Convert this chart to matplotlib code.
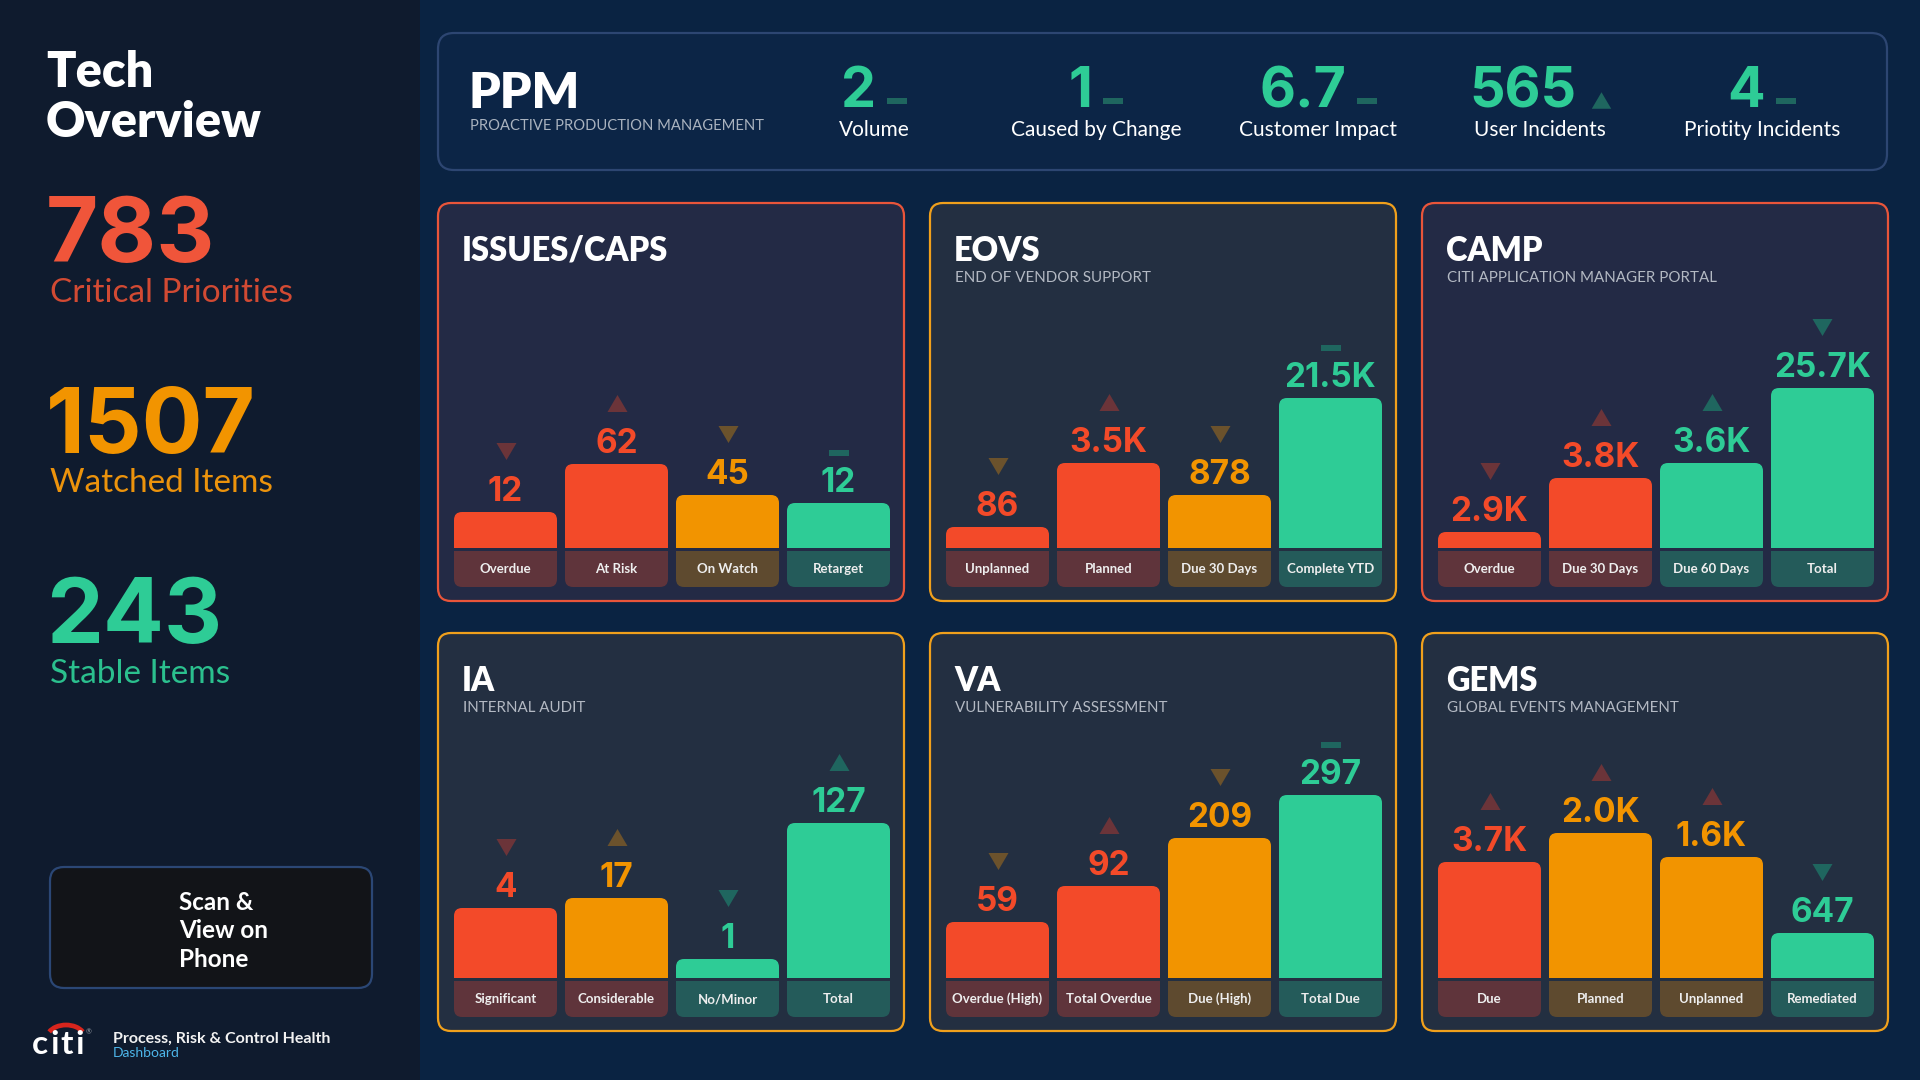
import matplotlib
matplotlib.use("Agg")
import matplotlib.pyplot as plt
from matplotlib.patches import FancyBboxPatch, Rectangle, Arc

plt.rcParams['font.family'] = ['Lato', 'DejaVu Sans']
NUM_FONT = ['Inter', 'Lato', 'DejaVu Sans']

# ---- data ----
side_values = [783, 1507, 243]
side_labels = ["Critical Priorities", "Watched Items", "Stable Items"]

kpi_values = ["2", "1", "6.7", "565", "4"]
kpi_labels = ["Volume", "Caused by Change", "Customer Impact", "User Incidents", "Priotity Incidents"]
kpi_trend = ["flat", "flat", "flat", "up", "flat"]

panel_titles = ["ISSUES/CAPS", "EOVS", "CAMP", "IA", "VA", "GEMS"]
panel_subtitles = ["", "END OF VENDOR SUPPORT", "CITI APPLICATION MANAGER PORTAL",
                   "INTERNAL AUDIT", "VULNERABILITY ASSESSMENT", "GLOBAL EVENTS MANAGEMENT"]
panel_tone = ["r", "o", "r", "o", "o", "o"]

bar_labels = [["Overdue", "At Risk", "On Watch", "Retarget"],
              ["Unplanned", "Planned", "Due 30 Days", "Complete YTD"],
              ["Overdue", "Due 30 Days", "Due 60 Days", "Total"],
              ["Significant", "Considerable", "No/Minor", "Total"],
              ["Overdue (High)", "Total Overdue", "Due (High)", "Total Due"],
              ["Due", "Planned", "Unplanned", "Remediated"]]
bar_values = [[12, 62, 45, 12],
              [86, 3500, 878, 21500],
              [2900, 3800, 3600, 25700],
              [4, 17, 1, 127],
              [59, 92, 209, 297],
              [3700, 2000, 1600, 647]]
# displayed bar height (dashboard index, not proportional to the value)
bar_level = [[36, 84, 53, 45],
             [21, 85, 53, 150],
             [16, 70, 85, 160],
             [70, 80, 19, 155],
             [56, 92, 140, 183],
             [116, 145, 121, 45]]
bar_tone = [["r", "r", "o", "g"], ["r", "r", "o", "g"], ["r", "r", "g", "g"],
            ["r", "o", "g", "g"], ["r", "r", "o", "g"], ["r", "o", "o", "g"]]
strip_tone = [["r", "r", "o", "g"], ["r", "r", "o", "g"], ["r", "r", "g", "g"],
              ["r", "r", "g", "g"], ["r", "r", "o", "g"], ["r", "o", "o", "g"]]
trend = [["down", "up", "down", "flat"], ["down", "up", "down", "flat"],
         ["down", "up", "up", "down"], ["down", "up", "down", "up"],
         ["down", "up", "down", "flat"], ["up", "up", "up", "down"]]
trend_tone = [["r", "r", "o", "g"], ["o", "r", "o", "g"], ["r", "r", "g", "g"],
              ["r", "o", "g", "g"], ["o", "r", "o", "g"], ["r", "r", "r", "g"]]

# ---- style ----
BAR = {"r": "#f34a29", "o": "#f29400", "g": "#2ecc96"}
STRIP = {"r": "#5f343b", "o": "#5e4a2f", "g": "#245b5a"}
ARROW = {"r": "#6b3439", "o": "#6b522c", "g": "#1f665f"}
EDGE = {"r": "#e9553a", "o": "#f0a01c"}
FILL = {"r": "#232a45", "o": "#232f41"}
MAIN_BG = "#0a2342"
SIDE_BG = "#0f1b2e"

TRI_UP = [(-1, -0.85), (1, -0.85), (0, 0.85)]
TRI_DOWN = [(-1, 0.85), (1, 0.85), (0, -0.85)]
DASH = [(-1, -0.33), (1, -0.33), (1, 0.33), (-1, 0.33)]
MARK = {"up": TRI_UP, "down": TRI_DOWN, "flat": DASH}

W, H = 1920, 1080
PITCH = 111  # px per bar slot


def fmt(v):
    return f"{v / 1000:.1f}K" if v >= 1000 else str(v)


def box(ax, x, y, w, h, r, fc, ec="none", lw=0):
    ax.add_patch(FancyBboxPatch((x, y), w, h, boxstyle=f"round,pad=0,rounding_size={r}",
                                fc=fc, ec=ec, lw=lw))


def round_rect(ax, rect, r=8, top=True):
    x, w = rect.get_x(), rect.get_width()
    y0 = min(rect.get_y(), rect.get_y() + rect.get_height())
    hh = abs(rect.get_height())
    c = rect.get_facecolor()
    rect.set_visible(False)
    ax.add_patch(FancyBboxPatch((x, y0), w, hh, boxstyle=f"round,pad=0,rounding_size={r / PITCH}",
                                mutation_aspect=PITCH, fc=c, ec="none", clip_on=False))
    sq = min(r, hh / 2)
    ax.add_patch(Rectangle((x, y0 if top else y0 + hh - sq), w, sq, fc=c, ec="none", clip_on=False))


fig = plt.figure(figsize=(19.2, 10.8), dpi=100)
fig.patch.set_facecolor(MAIN_BG)
bg = fig.add_axes([0, 0, 1, 1])
bg.set_xlim(0, W)
bg.set_ylim(H, 0)
bg.axis("off")
renderer = fig.canvas.get_renderer()

# sidebar
bg.add_patch(Rectangle((0, 0), 420, H, fc=SIDE_BG, ec="none"))
bg.text(46, 87, "Tech", fontsize=35, weight="heavy", color="white", va="baseline")
bg.text(46, 137, "Overview", fontsize=35, weight="heavy", color="white", va="baseline")
side_num_col = ["#f0553a", "#f29400", "#2ecc96"]
side_lab_col = ["#d24a33", "#ec930c", "#2bc08e"]
for i, (v, lab) in enumerate(zip(side_values, side_labels)):
    yb = 262 + i * 190.5
    bg.text(46, yb, str(v), fontsize=65, weight="bold", color=side_num_col[i], va="baseline",
            family=NUM_FONT)
    bg.text(50, yb + 40, lab, fontsize=24, color=side_lab_col[i], va="baseline")

# scan box
box(bg, 50, 867, 322, 121, 14, "#121418", "#2b4775", 1.6)
for j, line in enumerate(["Scan &", "View on", "Phone"]):
    bg.text(179, 910 + j * 28.5, line, fontsize=17.5, weight="bold", color="white", va="baseline")

# footer logo
cx = 32
for ch in "citi":
    t = bg.text(cx, 1054, ch, fontsize=24, weight="bold", color="white", va="baseline")
    cx += t.get_window_extent(renderer).width + 2
bg.add_patch(Arc((66, 1038), 38, 26, theta1=200, theta2=340, color="#d8251d", lw=3.4))
bg.text(86, 1032, "®", fontsize=5, color="#9aa0a8", va="center")
bg.text(113, 1043, "Process, Risk & Control Health", fontsize=11.5, weight="bold",
        color="#f2f2f2", va="baseline")
bg.text(113, 1057, "Dashboard", fontsize=10, color="#4db6ea", va="baseline")

# PPM strip
box(bg, 438, 33, 1449, 137, 16, "#0c2546", "#2d4672", 1.6)
bg.text(469, 108, "PPM", fontsize=36, weight="heavy", color="white", va="baseline")
bg.text(470, 126, "PROACTIVE PRODUCTION MANAGEMENT", fontsize=10.6, color="#aab3bf", va="center")

for i, (v, lab, tr) in enumerate(zip(kpi_values, kpi_labels, kpi_trend)):
    cx = 874 + i * 222
    t = bg.text(0, 107, v, fontsize=40, weight="bold", color=BAR["g"], va="baseline", ha="left",
                family=NUM_FONT)
    wpx = t.get_window_extent(renderer).width
    gap = 11 if tr == "flat" else 14
    gw = wpx + gap + 20
    x0 = cx - gw / 2
    t.set_x(x0)
    ix = x0 + wpx + gap + 10
    if tr == "flat":
        bg.plot(ix, 100.5, marker=DASH, ms=14.4, color=ARROW["g"], mew=0, ls="none")
    else:
        bg.plot(ix, 99.5, marker=MARK[tr], ms=14, color=ARROW["g"], mew=0, ls="none")
    bg.text(cx, 130, lab, fontsize=15, color="white", ha="center", va="center")

# panels
for k in range(6):
    col, row = k % 3, k // 3
    px, py = 438 + col * 492, 203 + row * 430
    tone = panel_tone[k]
    box(bg, px, py, 466, 398, 13, FILL[tone], EDGE[tone], 1.6)
    bg.text(px + 24, py + 58, panel_titles[k], fontsize=23.5, weight="heavy", color="white",
            va="baseline")
    if panel_subtitles[k]:
        bg.text(px + 25, py + 75, panel_subtitles[k], fontsize=10.9, color="#b3b9c3", va="center")

    # axes with 1 y-unit = 1 px, baseline at py + 345
    ax = fig.add_axes([(px + 12) / W, 1 - (py + 345 + 45) / H, 4 * PITCH / W, 305 / H])
    ax.set_xlim(-0.5, 3.5)
    ax.set_ylim(-45, 260)
    ax.axis("off")
    xs = range(4)
    bars = ax.bar(xs, bar_level[k], width=103 / PITCH, color=[BAR[t] for t in bar_tone[k]])
    for rect in bars:
        round_rect(ax, rect, 8, top=True)
    strips = ax.bar(xs, -36, bottom=-3, width=103 / PITCH, color=[STRIP[t] for t in strip_tone[k]])
    for rect in strips:
        round_rect(ax, rect, 8, top=False)
    for i in xs:
        lvl = bar_level[k][i]
        ax.text(i, lvl + 11, fmt(bar_values[k][i]), ha="center", va="baseline", fontsize=24,
                weight="bold", color=BAR[bar_tone[k][i]], family=NUM_FONT)
        tr = trend[k][i]
        yy = lvl + (50 if tr == "flat" else 61)
        ax.plot(i, yy, marker=MARK[tr], ms=14.4, color=ARROW[trend_tone[k][i]], mew=0, ls="none",
                clip_on=False)
        ax.text(i, -21, bar_labels[k][i], ha="center", va="center", fontsize=9.5, weight="bold",
                color="#eeeeee")

fig.savefig("out.png", dpi=100, facecolor=fig.get_facecolor())
